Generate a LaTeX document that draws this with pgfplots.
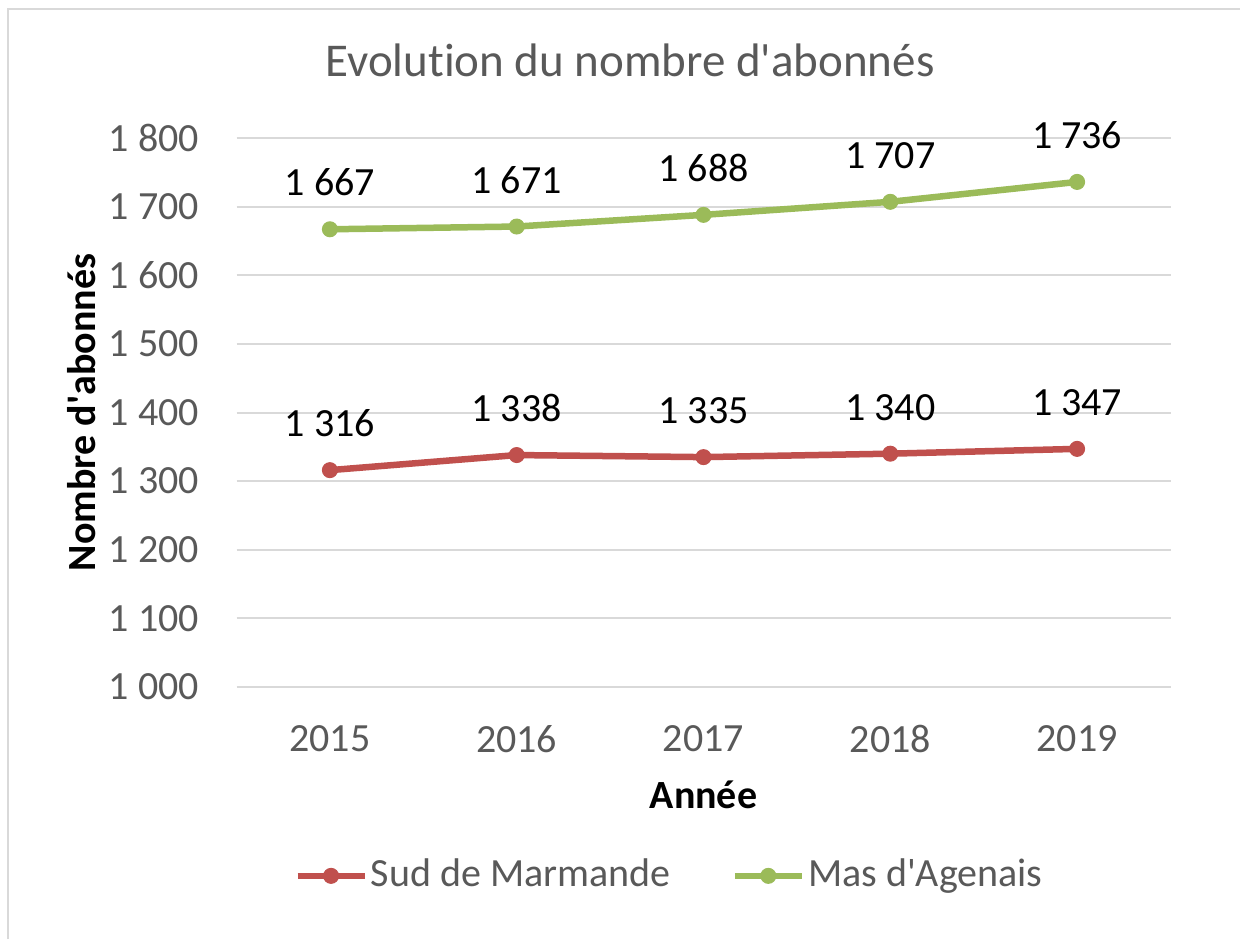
\documentclass[border=0pt]{standalone}
\usepackage{pgfplots}
\pgfplotsset{compat=1.18}
\usepackage{fontspec}
\setmainfont{Carlito}[Ligatures={TeXOff,NoCommon}]
\definecolor{txtgray}{HTML}{595959}
\definecolor{gridgray}{HTML}{D9D9D9}
\definecolor{redline}{HTML}{C0504D}
\definecolor{greenline}{HTML}{9BBB59}
\begin{document}
\fontsize{20}{24}\selectfont
\begin{tikzpicture}
\useasboundingbox (0,0) rectangle (620pt,469.5pt);
\fill[white] (0,0) rectangle (620pt,469.5pt);
\draw[gridgray, line width=1pt] (4pt,0) -- (4pt,465pt) -- (620pt,465pt);
\begin{axis}[at={(118.25pt,126pt)}, anchor=south west, scale only axis,
 width=467pt, height=274.5pt,
 xmin=-0.5, xmax=4.5, ymin=1000, ymax=1800,
 xtick={0,1,2,3,4}, xticklabels={2015,2016,2017,2018,2019},
 ytick={1000,1100,...,1800},
 ymajorgrids, grid style={gridgray, line width=1pt},
 axis line style={draw=none}, major tick length=0pt,
 tick label style={font=\fontsize{20}{24}\selectfont, text=txtgray},
 yticklabel style={inner sep=0pt, xshift=-18.5pt},
 xticklabel style={inner sep=0pt, yshift=-19pt},
 /pgf/number format/.cd, 1000 sep={\ }, assume math mode=true, /pgfplots/.cd,
 clip=false,
 nodes near coords,
 every node near coord/.append style={anchor=base, inner sep=0pt, yshift=16.75pt, text=black, font=\fontsize{20}{24}\selectfont},
 legend columns=2,
 legend style={draw=none, fill=none, at={(axis description cs:0.0615,-0.344)}, anchor=west,
   font=\fontsize{20}{24}\selectfont, text=txtgray, inner sep=0pt,
   nodes={inner sep=1.5pt},
   /tikz/every even column/.append style={column sep=29pt}},
 legend image code/.code={\draw[mark repeat=2,mark phase=2, line width=3.25pt] plot coordinates {(0pt,0pt)(16.75pt,0pt)(33.5pt,0pt)};},
]
\addplot[redline, line width=3.25pt, mark=*, mark size=3.75pt, mark options={solid, fill=redline, line width=0.5pt}]
 coordinates {(0,1316) (1,1338) (2,1335) (3,1340) (4,1347)};
\addlegendentry{Sud de Marmande}
\addplot[greenline, line width=3.25pt, mark=*, mark size=3.75pt, mark options={solid, fill=greenline, line width=0.5pt}]
 coordinates {(0,1667) (1,1671) (2,1688) (3,1707) (4,1736)};
\addlegendentry{Mas d\textquotesingle Agenais}
\end{axis}
\node[anchor=base, text=txtgray, font=\fontsize{23.5}{28}\selectfont, inner sep=0pt] at (315pt,431pt) {Evolution du nombre d\textquotesingle abonnés};
\node[anchor=base, font=\fontsize{20}{24}\selectfont\bfseries, inner sep=0pt] at (351.75pt,65.5pt) {Année};
\node[rotate=90, anchor=center, font=\fontsize{20}{24}\selectfont\bfseries, inner sep=0pt] at (41pt,263.25pt) {Nombre d\textquotesingle abonnés};
\end{tikzpicture}
\end{document}
